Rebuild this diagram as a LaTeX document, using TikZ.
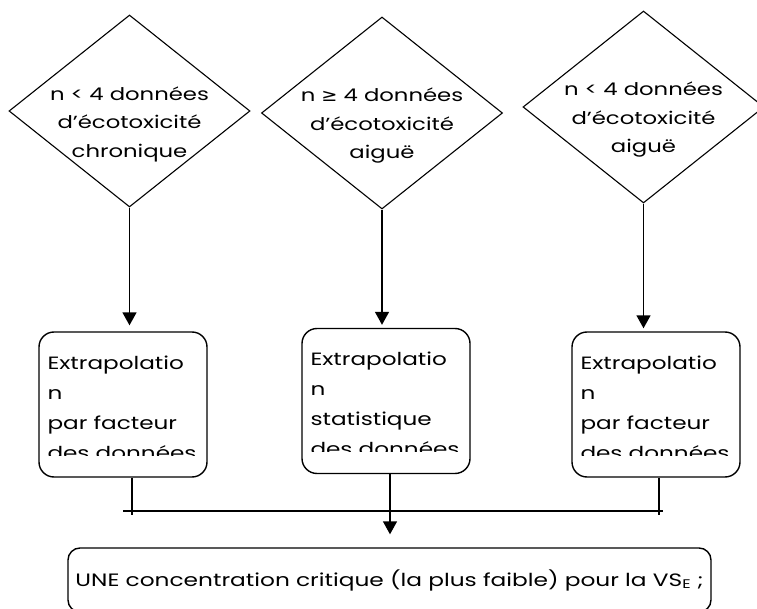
\documentclass[tikz,border=0pt]{standalone}
\usepackage{fontspec}
\setmainfont{Poppins}[FakeStretch=1.3]
\newfontfamily\symfont{DejaVu Sans}[FakeStretch=1.1]
\usetikzlibrary{arrows.meta, shapes.geometric}

\begin{document}
\begin{tikzpicture}[
  x=1pt, y=-1pt,
  font=\fontsize{17.5}{28.5}\selectfont,
  >={Triangle[length=13pt, width=14pt]},
  cond/.style={diamond, draw=black, line width=1.1pt, inner sep=0pt,
               minimum width=241pt, minimum height=192pt},
  condtxt/.style={align=center, inner sep=0pt},
  proc/.style={rounded corners=15pt, draw=black, line width=1.4pt,
               minimum width=168pt, minimum height=145pt},
  proctxt/.style={align=left, anchor=north west, inner sep=0pt,
                  font=\fontsize{17.8}{30}\selectfont},
  flow/.style={->, line width=1.5pt},
  bus/.style={line width=1.4pt},
]
\useasboundingbox (0,0) rectangle (757,609);
\clip (0,0) rectangle (757,609);

% ---------- Conditions ----------
\node[cond] (d1) at (129.5,111) {};
\node[cond] (d2) at (382,113)   {};
\node[cond] (d3) at (643.5,107) {};
\node[condtxt] (t1) at ([yshift=-13pt]d1.center) {n < 4 données\\d’écotoxicité\\chronique};
\node[condtxt] (t2) at ([yshift=-13pt]d2.center) {n {\symfont ≥} 4 données\\d’écotoxicité\\aiguë};
\node[condtxt] (t3) at ([yshift=-13pt]d3.center) {n < 4 données\\d’écotoxicité\\aiguë};

% ---------- Extrapolation ----------
\node[proc] (b1) at (123,404.5) {};
\node[proc] (b2) at (386,401)   {};
\node[proc] (b3) at (656,404.5) {};

\begin{scope}
  \clip (b1.north west) rectangle ([yshift=-124pt]b1.north east);
  \node[proctxt] (e1) at ([xshift=9pt, yshift=-24pt]b1.north west)
    {Extrapolatio\\n\\par facteur\\des données};
\end{scope}
\begin{scope}
  \clip (b2.north west) rectangle ([yshift=-124pt]b2.north east);
  \node[proctxt] (e2) at ([xshift=9pt, yshift=-24pt]b2.north west)
    {Extrapolatio\\n\\statistique\\des données};
\end{scope}
\begin{scope}
  \clip (b3.north west) rectangle ([yshift=-124pt]b3.north east);
  \node[proctxt] (e3) at ([xshift=9pt, yshift=-24pt]b3.north west)
    {Extrapolatio\\n\\par facteur\\des données};
\end{scope}

\draw[flow, shorten >=6pt] (d1.south) -- (d1.south |- b1.north);
\draw[flow, shorten >=3pt] (d2.south) -- (d2.south |- b2.north);
\draw[flow, shorten >=3pt] (d3.south) -- (d3.south |- b3.north);

% ---------- Result ----------
\node[proc, minimum width=643pt, minimum height=64pt, rounded corners=12pt,
      font=\fontsize{17.9}{24}\selectfont]
  (fin) at (389.5,580) {UNE concentration critique (la plus faible) pour la VS\textsubscript{E} ;};

\coordinate (busl) at (123,511);
\coordinate (busr) at (663,511);
\draw[bus] (busl) -- (busr);
\draw[bus] ([xshift=9pt]b1.south) -- ([xshift=9pt, yshift=-4pt]b1.south |- busl);
\draw[bus] ([xshift=3pt]b3.south) -- ([xshift=3pt, yshift=-4pt]b3.south |- busr);
\draw[flow, shorten >=13pt] ([xshift=4pt]b2.south) -- ([xshift=4pt]b2.south |- fin.north);

\end{tikzpicture}
\end{document}
